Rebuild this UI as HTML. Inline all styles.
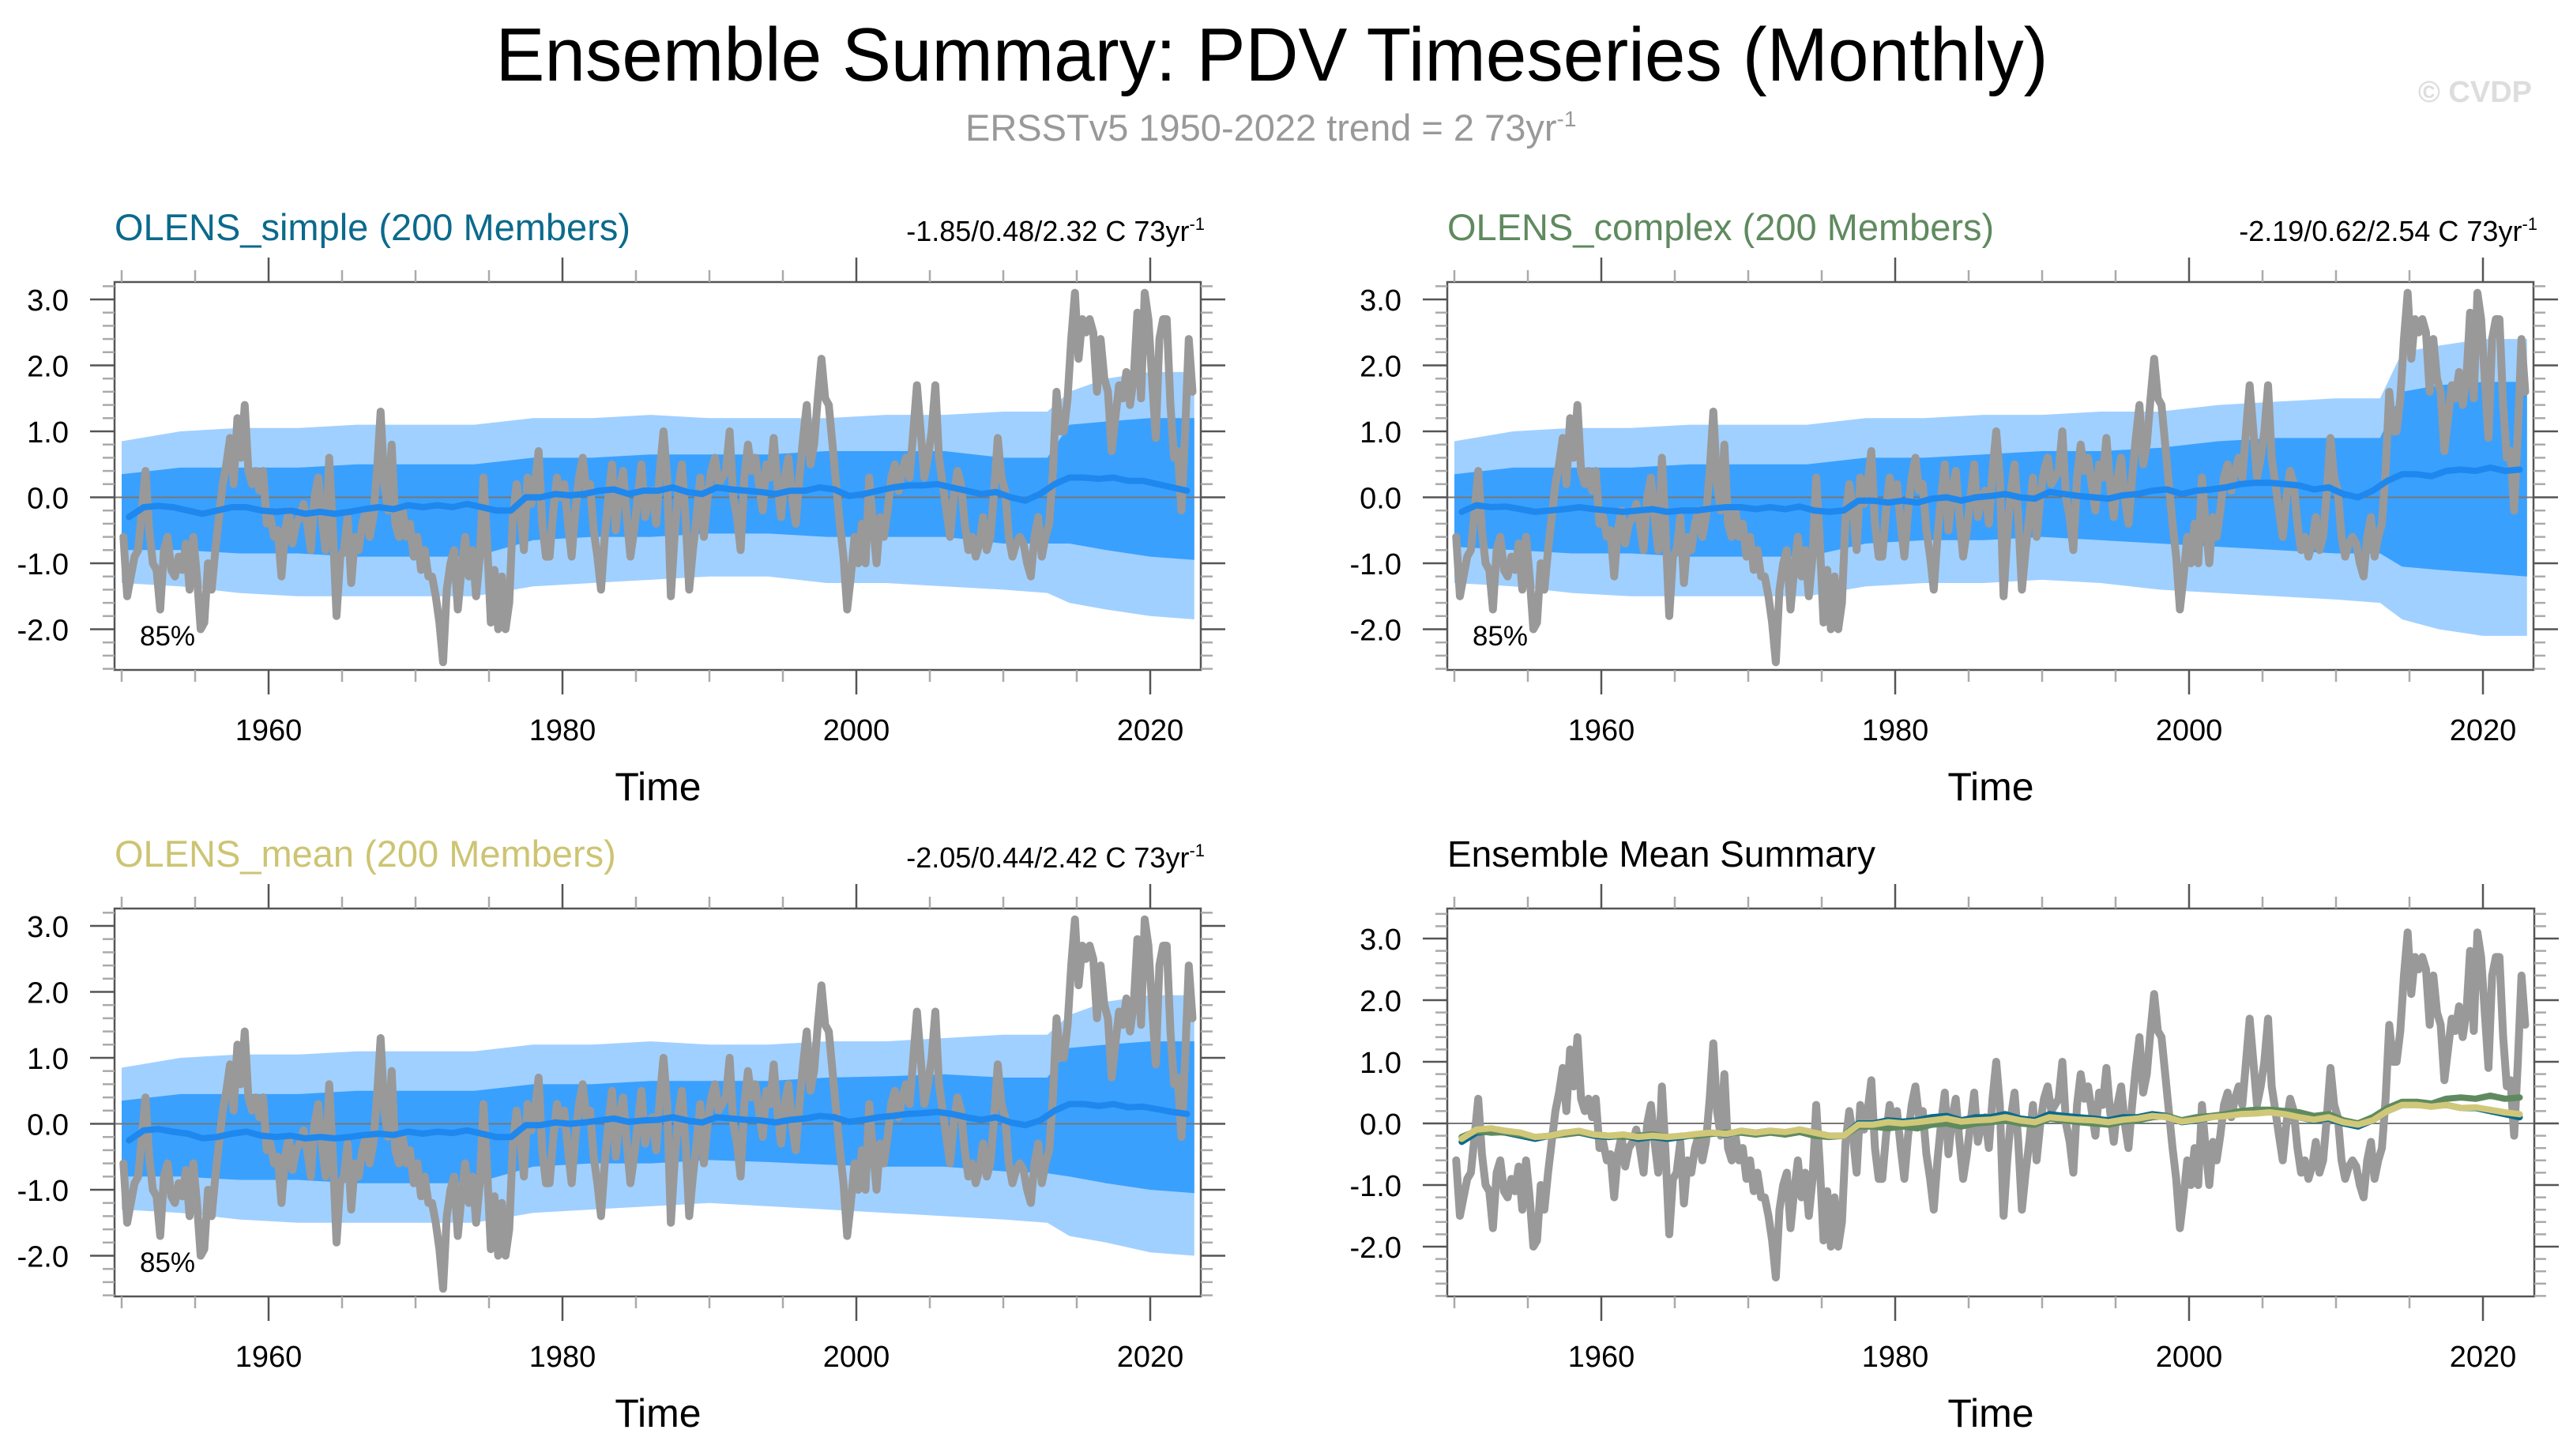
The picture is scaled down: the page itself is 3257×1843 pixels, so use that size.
<!DOCTYPE html>
<html><head><meta charset="utf-8"><title>Ensemble Summary: PDV Timeseries (Monthly)</title>
<style>html,body{margin:0;padding:0;background:#fff}svg{display:block}text{font-family:"Liberation Sans",Arial,sans-serif}</style>
</head><body>
<svg id="fig" xmlns="http://www.w3.org/2000/svg" width="3257" height="1843" viewBox="0 0 3257 1843">
<rect width="3257" height="1843" fill="#fff"/>
<text x="1610" y="102" font-size="96" text-anchor="middle" textLength="1965" lengthAdjust="spacingAndGlyphs" fill="#000">Ensemble Summary: PDV Timeseries (Monthly)</text>
<text x="1222" y="178" font-size="47" fill="#999">ERSSTv5 1950-2022 trend = 2 73yr<tspan dy="-18" font-size="28">-1</tspan></text>
<text x="3205" y="129" font-size="38" font-weight="bold" text-anchor="end" fill="#ddd">© CVDP</text>
</svg>
<script>
// ---------- data ----------
const obsStartYear = 1950;
const obsQuarterly = [
-0.6,-1.5,-1.2,-0.9, -0.8,-0.2,0.4,-0.5, -1.0,-1.1,-1.7,-0.8, -0.6,-1.1,-1.2,-0.9, -1.1,-0.7,-1.4,-0.6,
-1.2,-2.0,-1.9,-1.0, -1.4,-0.8,-0.3,0.2, 0.5,0.9,0.2,1.2, 0.6,1.4,0.4,0.2, 0.4,0.1,0.4,-0.4,
-0.3,-0.6,-0.5,-1.2, -0.5,-0.2,-0.7,-0.4, -0.3,-0.1,-0.4,-0.8, 0.0,0.3,-0.3,-0.8, 0.6,-0.5,-1.8,-0.9,
-0.8,-0.3,-1.3,-0.6, -0.8,-0.4,-0.2,-0.6, -0.3,0.4,1.3,0.2, -0.2,0.8,-0.4,-0.6, -0.2,-0.6,-0.4,-0.9,
-0.6,-1.1,-0.8,-1.2, -1.2,-1.5,-1.9,-2.5, -1.4,-1.0,-0.8,-1.7, -1.1,-0.6,-1.2,-0.8, -1.5,-0.9,0.3,-0.7,
-1.9,-1.1,-2.0,-1.2, -2.0,-1.6,-0.3,0.2, -0.2,-0.8,0.3,-0.1, 0.2,0.7,-0.4,-0.9, -0.9,-0.2,0.3,0.0,
0.2,-0.4,-0.9,-0.2, 0.3,0.6,0.1,0.2, -0.5,-0.9,-1.4,-0.6, 0.0,0.5,-0.5,0.1, 0.4,-0.3,-0.9,-0.5,
0.0,0.5,-0.3,0.0, 0.1,-0.4,0.4,1.0, 0.3,-1.5,-0.6,0.1, 0.5,-0.3,-1.4,-0.8, -0.3,0.3,-0.6,0.0,
0.4,0.6,0.2,0.3, 0.4,1.0,0.0,-0.3, -0.8,0.3,0.8,0.4, 0.6,0.2,-0.2,0.5, 0.3,0.9,0.2,-0.3,
0.3,0.6,0.0,-0.4, 0.3,0.9,1.4,0.5, 0.8,1.5,2.1,1.5, 1.4,0.8,0.2,-0.4, -0.9,-1.7,-1.2,-0.6,
-1.0,-0.4,-1.0,0.3, -0.4,-1.0,-0.3,-0.6, -0.2,0.3,0.5,0.1, 0.4,0.6,0.3,1.0, 1.7,1.0,0.3,0.6,
1.0,1.7,0.6,0.2, -0.2,-0.6,0.0,0.4, 0.2,-0.4,-0.8,-0.6, -0.9,-0.7,-0.3,-0.8, -0.6,0.1,0.9,0.3,
0.1,-0.6,-0.9,-0.7, -0.6,-0.7,-1.0,-1.2, -0.6,-0.3,-0.9,-0.6, -0.4,0.4,1.6,1.0, 1.0,1.5,2.4,3.1,
2.1,2.7,2.5,2.7, 2.5,1.6,2.4,1.8, 1.6,0.7,1.2,1.7, 1.5,1.9,1.4,1.8, 2.8,1.5,3.1,2.7,
1.8,0.9,2.4,2.7, 2.7,1.4,0.6,0.7, -0.2,1.0,2.4,1.6
];
const meanStartYear = 1950;
const simpleMean = [-0.3,-0.15,-0.13,-0.15,-0.2,-0.25,-0.2,-0.15,-0.15,-0.2,
-0.22,-0.2,-0.25,-0.22,-0.25,-0.22,-0.18,-0.15,-0.18,-0.12,
-0.15,-0.12,-0.15,-0.1,-0.15,-0.2,-0.2,0.0,0.0,0.05,
0.03,0.05,0.1,0.12,0.05,0.1,0.1,0.15,0.08,0.05,
0.15,0.12,0.1,0.08,0.05,0.1,0.1,0.15,0.12,0.02,
0.05,0.1,0.15,0.18,0.18,0.2,0.15,0.1,0.05,0.08,
0.0,-0.05,0.05,0.2,0.3,0.3,0.28,0.3,0.25,0.25,
0.2,0.15,0.1];
const complexMean = [-0.22,-0.12,-0.15,-0.14,-0.18,-0.22,-0.2,-0.18,-0.15,-0.18,
-0.2,-0.22,-0.2,-0.18,-0.22,-0.2,-0.2,-0.17,-0.15,-0.15,
-0.18,-0.15,-0.18,-0.14,-0.2,-0.22,-0.2,-0.05,-0.05,-0.08,
-0.05,-0.08,-0.02,0.0,-0.05,0.0,0.02,0.05,0.0,-0.02,
0.08,0.05,0.02,0.0,-0.02,0.03,0.05,0.1,0.12,0.05,
0.1,0.12,0.15,0.2,0.22,0.22,0.2,0.18,0.12,0.15,
0.05,0.0,0.1,0.25,0.35,0.35,0.32,0.4,0.42,0.4,
0.45,0.4,0.42];
const meanMean = [-0.25,-0.1,-0.08,-0.12,-0.15,-0.22,-0.2,-0.15,-0.12,-0.18,
-0.2,-0.18,-0.22,-0.2,-0.22,-0.2,-0.17,-0.15,-0.17,-0.12,
-0.15,-0.12,-0.14,-0.1,-0.15,-0.2,-0.2,-0.02,-0.02,0.02,
0.0,0.02,0.05,0.08,0.03,0.05,0.06,0.1,0.05,0.02,
0.1,0.08,0.06,0.05,0.02,0.06,0.08,0.12,0.1,0.03,
0.06,0.1,0.12,0.15,0.16,0.18,0.15,0.1,0.06,0.1,
0.02,-0.02,0.05,0.2,0.3,0.3,0.27,0.3,0.25,0.26,
0.22,0.18,0.15];
const bandYears = [1950,1954,1958,1962,1966,1970,1974,1978,1982,1986,1990,1994,1998,2002,2006,2010,2013,2014.5,2017,2020,2023];
const simpleLightUp = [0.85,1.0,1.05,1.05,1.1,1.1,1.1,1.2,1.2,1.25,1.2,1.2,1.2,1.25,1.25,1.3,1.3,1.6,1.8,1.9,1.9];
const simpleDarkUp  = [0.35,0.45,0.45,0.45,0.5,0.5,0.5,0.6,0.6,0.65,0.65,0.65,0.7,0.7,0.7,0.6,0.6,1.1,1.15,1.2,1.2];
const simpleDarkLo  = [-0.8,-0.8,-0.85,-0.85,-0.9,-0.9,-0.9,-0.65,-0.6,-0.6,-0.55,-0.55,-0.6,-0.6,-0.6,-0.7,-0.7,-0.7,-0.8,-0.9,-0.95];
const simpleLightLo = [-1.3,-1.35,-1.45,-1.5,-1.5,-1.5,-1.5,-1.35,-1.3,-1.25,-1.2,-1.2,-1.3,-1.3,-1.35,-1.4,-1.45,-1.6,-1.7,-1.8,-1.85];
const complexLightUp = [0.85,1.0,1.05,1.05,1.1,1.1,1.1,1.2,1.2,1.25,1.25,1.3,1.3,1.4,1.45,1.5,1.5,2.2,2.3,2.4,2.4];
const complexDarkUp  = [0.35,0.45,0.45,0.45,0.5,0.5,0.5,0.6,0.6,0.65,0.7,0.7,0.75,0.85,0.9,0.9,0.9,1.6,1.7,1.75,1.75];
const complexDarkLo  = [-0.75,-0.8,-0.85,-0.85,-0.9,-0.9,-0.9,-0.7,-0.65,-0.65,-0.6,-0.65,-0.7,-0.75,-0.8,-0.85,-0.85,-1.05,-1.1,-1.15,-1.2];
const complexLightLo = [-1.3,-1.35,-1.45,-1.5,-1.5,-1.5,-1.5,-1.35,-1.3,-1.3,-1.25,-1.3,-1.4,-1.45,-1.5,-1.55,-1.6,-1.85,-2.0,-2.1,-2.1];
const meanLightUp = [0.85,1.0,1.05,1.05,1.1,1.1,1.1,1.2,1.2,1.25,1.2,1.2,1.25,1.25,1.3,1.35,1.35,1.65,1.85,1.95,1.95];
const meanDarkUp  = [0.35,0.45,0.45,0.45,0.5,0.5,0.5,0.6,0.6,0.65,0.65,0.65,0.7,0.72,0.75,0.7,0.7,1.15,1.2,1.25,1.25];
const meanDarkLo  = [-0.8,-0.8,-0.85,-0.85,-0.9,-0.9,-0.9,-0.65,-0.6,-0.6,-0.55,-0.58,-0.62,-0.65,-0.65,-0.72,-0.75,-0.8,-0.9,-1.0,-1.05];
const meanLightLo = [-1.3,-1.35,-1.45,-1.5,-1.5,-1.5,-1.5,-1.35,-1.3,-1.25,-1.2,-1.25,-1.3,-1.35,-1.4,-1.45,-1.5,-1.7,-1.8,-1.95,-2.0];
const xTickLabels = ["1960","1980","2000","2020"];
const yTickLabelsA = ["3.0","2.0","1.0","0.0","-1.0","-2.0"];
const yTickLabelsB = ["3.0","2.0","1.0","0.0","-1.0","-2.0"];

// ---------- drawing ----------
const NS = "http://www.w3.org/2000/svg";
const svg = document.getElementById("fig");
function mk(tag, attrs, parent){const e=document.createElementNS(NS,tag);for(const k in attrs)e.setAttribute(k,attrs[k]);(parent||svg).appendChild(e);return e;}

const panels = [
 {key:"simple", L:145,T:357,R:1520,B:848, zeroY:629.5, unit:83.5, ymin:-2.6, ymax:3.2, title:"OLENS_simple (200 Members)", color:"#0b6a8c", stat:"-1.85/0.48/2.32 C 73yr", bands:[simpleLightUp,simpleDarkUp,simpleDarkLo,simpleLightLo], mean:simpleMean},
 {key:"complex", L:1832,T:357,R:3207,B:848, zeroY:629.5, unit:83.5, ymin:-2.6, ymax:3.2, title:"OLENS_complex (200 Members)", color:"#5f8a5f", stat:"-2.19/0.62/2.54 C 73yr", bands:[complexLightUp,complexDarkUp,complexDarkLo,complexLightLo], mean:complexMean},
 {key:"mean", L:145,T:1150,R:1520,B:1641, zeroY:1422.5, unit:83.5, ymin:-2.6, ymax:3.2, title:"OLENS_mean (200 Members)", color:"#cdc473", stat:"-2.05/0.44/2.42 C 73yr", bands:[meanLightUp,meanDarkUp,meanDarkLo,meanLightLo], mean:meanMean},
 {key:"summary", L:1832,T:1150,R:3208,B:1641, zeroY:1422, unit:78, ymin:-2.8, ymax:3.4, title:"Ensemble Mean Summary", color:"#000", stat:null}
];

panels.forEach(p=>{
  const g = mk("g",{});
  
  
  const X = yr => p.L + 9 + (yr-1950)*18.6;
  const Y = v => p.zeroY - v*p.unit;
  const clip = "clip-"+p.key;
  const cp = mk("clipPath",{id:clip},g); mk("rect",{x:p.L,y:p.T,width:p.R-p.L,height:p.B-p.T},cp);
  const plot = mk("g",{"clip-path":"url(#"+clip+")"},g);
  
  

  if(p.bands){
    const [lu,du,dl,ll] = p.bands;
    const poly=(up,lo,fill,name)=>{
      let pts=[]; for(let i=0;i<bandYears.length;i++)pts.push(X(bandYears[i]).toFixed(1)+","+Y(up[i]).toFixed(1));
      for(let i=bandYears.length-1;i>=0;i--)pts.push(X(bandYears[i]).toFixed(1)+","+Y(lo[i]).toFixed(1));
      const e=mk("polygon",{points:pts.join(" "),fill:fill},plot);
      
      
    };
    poly(lu,ll,"#a0d0ff","outer-spread-band");
    poly(du,dl,"#3aa0fe","inner-spread-band");
  }
  const z = mk("line",{x1:p.L,x2:p.R,y1:Y(0),y2:Y(0),stroke:"#777","stroke-width":2},plot);
  
  

  const linePath=(arr,start,step,off)=>arr.map((v,i)=>(i?"L":"M")+X(start+i*step+off).toFixed(1)+","+Y(v).toFixed(1)).join("");
  const obs = mk("path",{d:linePath(obsQuarterly,obsStartYear,0.25,0.125),fill:"none",stroke:"#999","stroke-width":10,"stroke-linejoin":"round","stroke-linecap":"round"},plot);
  
  

  if(p.mean){
    const m = mk("path",{d:linePath(p.mean,meanStartYear,1,0.5),fill:"none",stroke:"#1e88ee","stroke-width":8,"stroke-linejoin":"round","stroke-linecap":"round"},plot);
    
    
  } else {
    [[simpleMean,"#0b6a8c","simple-mean-line"],[complexMean,"#5f8a5f","complex-mean-line"],[meanMean,"#d0c878","mean-mean-line"]].forEach(s=>{
      const m = mk("path",{d:linePath(s[0],meanStartYear,1,0.5),fill:"none",stroke:s[1],"stroke-width":8,"stroke-linejoin":"round","stroke-linecap":"round"},plot);
      
      
    });
  }

  const fr = mk("rect",{x:p.L,y:p.T,width:p.R-p.L,height:p.B-p.T,fill:"none",stroke:"#555","stroke-width":2.5},g);
  
  

  for(let yr=1950; yr<=2020; yr+=5){
    const major = yr%20===0 && yr>=1960;
    const len = major?31:15, col = major?"#555":"#aaa";
    const x=X(yr);
    mk("line",{x1:x,x2:x,y1:p.B,y2:p.B+len,stroke:col,"stroke-width":2.5},g);
    mk("line",{x1:x,x2:x,y1:p.T,y2:p.T-len,stroke:col,"stroke-width":2.5},g);
  }
  xTickLabels.forEach(lbl=>{
    const t = mk("text",{x:X(+lbl),y:p.B+89,"font-size":38,"text-anchor":"middle"},g);
    t.textContent=lbl;
    
    
  });
  const nMin = Math.round(p.ymin*5), nMax = Math.round(p.ymax*5);
  for(let k=nMin;k<=nMax;k++){
    const v=k/5, major = k%5===0, len=major?31:15, col=major?"#555":"#aaa";
    const y=Y(v);
    mk("line",{x1:p.L,x2:p.L-len,y1:y,y2:y,stroke:col,"stroke-width":2.5},g);
    mk("line",{x1:p.R,x2:p.R+len,y1:y,y2:y,stroke:col,"stroke-width":2.5},g);
  }
  (p.key==="summary"?yTickLabelsB:yTickLabelsA).forEach(lbl=>{
    const t = mk("text",{x:p.L-58,y:Y(parseFloat(lbl))+14,"font-size":38,"text-anchor":"end"},g);
    t.textContent=lbl;
    
    
  });
  const xt = mk("text",{x:p.L+688,y:p.B+165,"font-size":50,"text-anchor":"middle"},g);
  xt.textContent="Time";
  
  
  const tt = mk("text",{x:p.L,y:p.T-53,"font-size":p.stat?47:46,fill:p.color},g);
  tt.textContent=p.title;
  
  
  if(p.stat){
    const st = mk("text",{x:p.R+5,y:p.T-52,"font-size":36,"text-anchor":"end"},g);
    st.textContent=p.stat;
    const sup = mk("tspan",{dy:-14,"font-size":22},st); sup.textContent="-1";
    
    
    const pc = mk("text",{x:p.L+32,y:p.B-31,"font-size":35},g);
    pc.textContent="85%";
    
    
  }
});
</script>
</body></html>
